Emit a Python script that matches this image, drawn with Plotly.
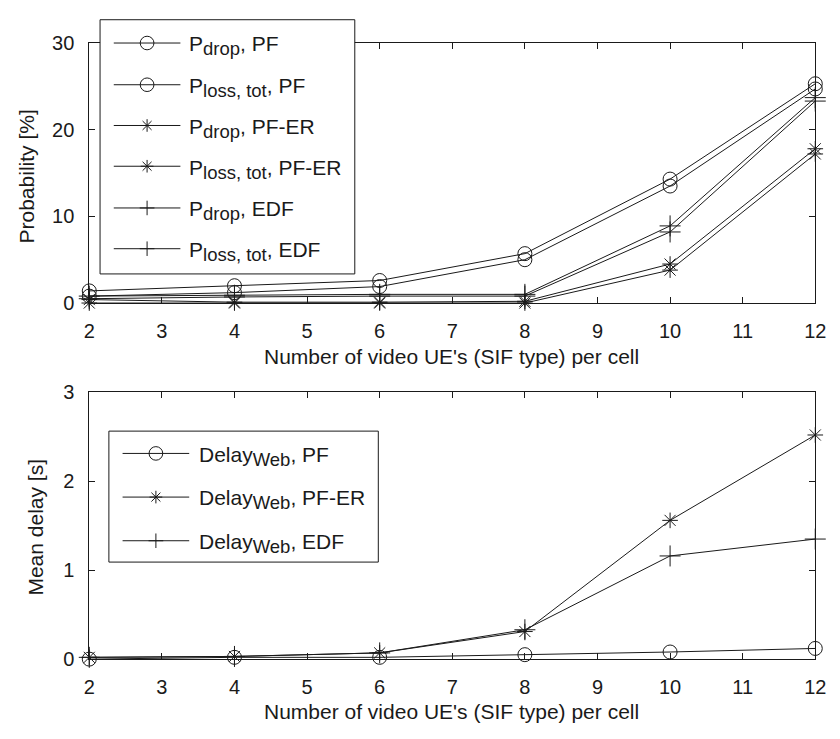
import math
import plotly.graph_objects as go

# Number of video UEs per cell
ues = [2, 4, 6, 8, 10, 12]

# Packet drop / total loss probability [%]
pdrop_pf = [0.8, 1.2, 1.9, 5.0, 13.5, 24.7]
ploss_pf = [1.4, 2.0, 2.6, 5.7, 14.3, 25.3]
pdrop_pfer = [0.0, 0.0, 0.0, 0.0, 3.8, 17.2]
ploss_pfer = [0.4, 0.1, 0.1, 0.2, 4.5, 17.8]
pdrop_edf = [0.5, 0.7, 0.8, 0.8, 8.2, 23.3]
ploss_edf = [0.8, 0.9, 1.0, 1.0, 8.9, 23.7]

# Mean web delay [s]
delay_pf = [0.0, 0.02, 0.02, 0.05, 0.08, 0.12]
delay_pfer = [0.02, 0.03, 0.07, 0.31, 1.56, 2.52]
delay_edf = [0.02, 0.03, 0.07, 0.33, 1.16, 1.35]

SUB = "<sub><span style='font-size:18.5px'>{}</span></sub>"
top_names = ["P" + SUB.format("drop") + ", PF",
             "P" + SUB.format("loss, tot") + ", PF",
             "P" + SUB.format("drop") + ", PF-ER",
             "P" + SUB.format("loss, tot") + ", PF-ER",
             "P" + SUB.format("drop") + ", EDF",
             "P" + SUB.format("loss, tot") + ", EDF"]
bot_names = ["Delay" + SUB.format("Web") + ", PF",
             "Delay" + SUB.format("Web") + ", PF-ER",
             "Delay" + SUB.format("Web") + ", EDF"]

x_ticks = list(range(2, 13))
top_yticks = [0, 10, 20, 30]
bot_yticks = [0, 1, 2, 3]

W, H = 840, 739
FONT = "Liberation Sans, Arial, sans-serif"
INK = "#1a1a1a"

SYM = {"o": ("circle-open", 14), "*": ("asterisk-open", 13), "+": ("cross-thin-open", 15)}

top_series = [(pdrop_pf, "o"), (ploss_pf, "o"), (pdrop_pfer, "*"),
              (ploss_pfer, "*"), (pdrop_edf, "+"), (ploss_edf, "+")]
bot_series = [(delay_pf, "o"), (delay_pfer, "*"), (delay_edf, "+")]

fig = go.Figure()


def add_curve(y, sym, xa, ya):
    s, sz = SYM[sym]
    fig.add_trace(go.Scatter(
        x=ues, y=y, xaxis=xa, yaxis=ya, mode="lines+markers",
        line=dict(color=INK, width=1),
        marker=dict(symbol=s, size=sz, color=INK, line=dict(color=INK, width=1)),
        cliponaxis=False, showlegend=False, hoverinfo="skip"))


for y, sym in top_series:
    add_curve(y, sym, "x", "y")
for y, sym in bot_series:
    add_curve(y, sym, "x2", "y2")


def px_x(p):
    return p / W


def px_y(p):
    return 1 - p / H


def seg(xa, ya, xb, yb):
    fig.add_shape(type="line", xref="paper", yref="paper",
                  x0=px_x(xa), x1=px_x(xb), y0=px_y(ya), y1=px_y(yb),
                  line=dict(color=INK, width=1), layer="above")


def legend_marker(sym, cx, cy):
    if sym == "o":
        r = 7
        fig.add_shape(type="circle", xref="paper", yref="paper",
                      x0=px_x(cx - r), x1=px_x(cx + r), y0=px_y(cy + r), y1=px_y(cy - r),
                      line=dict(color=INK, width=1), fillcolor="rgba(0,0,0,0)",
                      layer="above")
    elif sym == "+":
        r = 7.5
        seg(cx - r, cy, cx + r, cy)
        seg(cx, cy - r, cx, cy + r)
    else:
        r = 6.5
        for a in (0, 45, 90, 135):
            dx = r * math.cos(math.radians(a))
            dy = r * math.sin(math.radians(a))
            seg(cx - dx, cy - dy, cx + dx, cy + dy)


def draw_legend(names, syms, box, x_line, x_text, rows, fsize):
    x0, y0, x1, y1 = box
    fig.add_shape(type="rect", xref="paper", yref="paper",
                  x0=px_x(x0), x1=px_x(x1), y0=px_y(y1), y1=px_y(y0),
                  line=dict(color=INK, width=1), fillcolor="white", layer="above")
    for name, sym, ry in zip(names, syms, rows):
        seg(x_line[0], ry, x_line[1], ry)
        legend_marker(sym, (x_line[0] + x_line[1]) / 2, ry)
        fig.add_annotation(xref="paper", yref="paper", x=px_x(x_text), y=px_y(ry + 3),
                           text=name, showarrow=False, xanchor="left", yanchor="middle",
                           font=dict(family=FONT, size=fsize, color=INK))


axis_common = dict(showgrid=False, zeroline=False, showline=True, linecolor=INK,
                   linewidth=1, mirror="ticks", ticks="inside", ticklen=6,
                   tickcolor=INK, tickwidth=1,
                   tickfont=dict(family=FONT, size=20, color=INK))

fig.update_layout(
    width=W, height=H, margin=dict(l=0, r=0, t=0, b=0),
    paper_bgcolor="white", plot_bgcolor="white",
    xaxis=dict(domain=[px_x(85), px_x(826)], range=[2, 12], tickvals=x_ticks,
               anchor="y", ticklabelstandoff=10, **axis_common),
    yaxis=dict(domain=[px_y(301), px_y(33)], range=[0, 30], tickvals=top_yticks,
               anchor="x", ticklabelstandoff=10, **axis_common),
    xaxis2=dict(domain=[px_x(85), px_x(826)], range=[2, 12], tickvals=x_ticks,
                anchor="y2", ticklabelstandoff=10, **axis_common),
    yaxis2=dict(domain=[px_y(668), px_y(393)], range=[0, 3], tickvals=bot_yticks,
                anchor="x2", ticklabelstandoff=10, **axis_common),
)

# Axis titles
TITLE_FONT = dict(family=FONT, size=21, color=INK)
fig.add_annotation(xref="paper", yref="paper", x=px_x(455), y=px_y(356),
                   text="Number of video UE's (SIF type) per cell", showarrow=False,
                   xanchor="center", yanchor="middle", font=TITLE_FONT)
fig.add_annotation(xref="paper", yref="paper", x=px_x(455), y=px_y(722),
                   text="Number of video UE's (SIF type) per cell", showarrow=False,
                   xanchor="center", yanchor="middle", font=TITLE_FONT)
fig.add_annotation(xref="paper", yref="paper", x=px_x(21), y=px_y(171),
                   text="Probability [%]", showarrow=False, textangle=-90,
                   xanchor="center", yanchor="middle", font=TITLE_FONT)
fig.add_annotation(xref="paper", yref="paper", x=px_x(30), y=px_y(532),
                   text="Mean delay [s]", showarrow=False, textangle=-90,
                   xanchor="center", yanchor="middle", font=TITLE_FONT)

draw_legend(top_names, [s for _, s in top_series], (96, 9, 356, 271), (110, 178), 185,
            [33, 76, 118, 160, 203, 245], 21)
draw_legend(bot_names, [s for _, s in bot_series], (105, 433, 380, 568), (119, 187), 195,
            [456, 501, 546], 21)

fig.write_html("out.html")
